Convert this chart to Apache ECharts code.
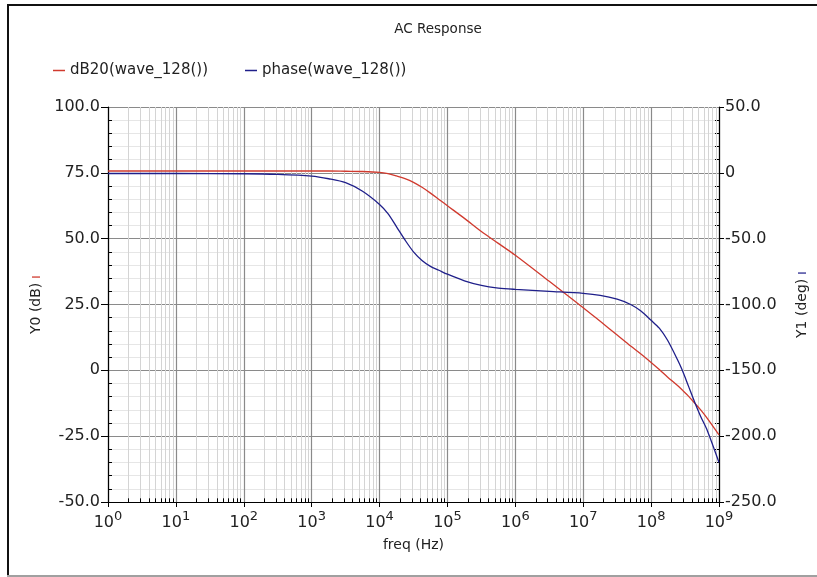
<!DOCTYPE html>
<html>
<head>
<meta charset="utf-8">
<style>
html,body{margin:0;padding:0;background:#fff;}
#chart{width:817px;height:577px;}
</style>
<script src="https://cdn.jsdelivr.net/npm/echarts@6/dist/echarts.min.js"></script>
</head>
<body>
<div id="chart"></div>
<script>
// ---- data ----
const freq = [1, 10, 100, 316, 1e3, 1.78e3, 3.16e3, 5.62e3, 1e4, 1.33e4, 1.78e4, 2.37e4, 3.16e4, 4.22e4, 5.62e4, 7.5e4,
  1e5, 1.78e5, 3.16e5, 5.62e5, 1e6, 3.16e6, 1e7, 1.78e7, 3.16e7, 5e7, 7.08e7, 1e8, 1.32e8, 1.74e8, 2.45e8, 2.88e8,
  3.55e8, 4.37e8, 5.37e8, 6.76e8, 1e9];
const dB20 = [75.7, 75.7, 75.7, 75.7, 75.7, 75.7, 75.6, 75.5, 75.2, 74.7, 73.8, 72.8, 71.4, 69.5, 67.3, 64.9,
  62.5, 57.7, 52.7, 48.2, 43.7, 33.8, 23.8, 18.6, 13.4, 9.2, 6.2, 3.0, 0.3, -2.5, -5.8, -7.5,
  -9.8, -12.4, -15.0, -18.3, -24.5];
const phase = [-0.5, -0.5, -0.7, -1.2, -2.5, -4.5, -7.5, -14, -24, -31, -41, -51, -60, -66.5, -71, -74,
  -77, -82, -85.5, -87.5, -88.5, -90, -91.5, -93, -96, -100, -105, -112, -118, -127, -142, -150,
  -162, -174, -185, -196, -220];
const seriesNames = ['dB20(wave_128())', 'phase(wave_128())'];
const decades = [1, 10, 100, 1e3, 1e4, 1e5, 1e6, 1e7, 1e8];
const minorMultipliers = [2, 3, 4, 5, 6, 7, 8, 9];

const RED = '#d03a2e';
const BLUE = '#1f1f8a';
const FONT = 'DejaVu Sans';

const minorX = [];
decades.forEach(d => minorMultipliers.forEach(m => minorX.push(d * m)));

function numFmt(v) { return v === 0 ? '0' : v.toFixed(1); }

const chart = echarts.init(document.getElementById('chart'), null, {renderer: 'canvas'});
chart.setOption({
  animation: false,
  backgroundColor: '#fff',
  textStyle: {fontFamily: FONT},
  title: {
    text: 'AC Response',
    left: 438, top: 22, textAlign: 'center', padding: 0,
    textStyle: {fontFamily: FONT, fontSize: 13.5, fontWeight: 'normal', color: '#222'}
  },
  legend: [
    {data: [seriesNames[0]], left: 53, top: 63, padding: 0, itemWidth: 12, itemHeight: 1.5, icon: 'rect',
     textStyle: {fontFamily: FONT, fontSize: 15, color: '#222'}, itemStyle: {color: RED}},
    {data: [seriesNames[1]], left: 245, top: 63, padding: 0, itemWidth: 12, itemHeight: 1.5, icon: 'rect',
     textStyle: {fontFamily: FONT, fontSize: 15, color: '#222'}, itemStyle: {color: BLUE}}
  ],
  grid: {left: 108, right: 95, top: 107, bottom: 75, containLabel: false},
  xAxis: {
    type: 'log', logBase: 10, min: 1, max: 1e9,
    name: 'freq (Hz)', nameLocation: 'middle', nameGap: 36,
    nameTextStyle: {fontFamily: FONT, fontSize: 14, color: '#222'},
    axisLine: {show: true, onZero: false, lineStyle: {color: '#000', width: 1.2}},
    axisTick: {show: true, length: 5, lineStyle: {color: '#000'}},
    splitLine: {show: true, lineStyle: {color: '#8a8a8a', width: 1.2}},
    axisLabel: {
      margin: 7,
      formatter: v => '{b|10}{s|' + Math.round(Math.log10(v)) + '}',
      rich: {
        b: {fontFamily: FONT, fontSize: 16, color: '#222', verticalAlign: 'bottom', lineHeight: 22},
        s: {fontFamily: FONT, fontSize: 13, color: '#222', verticalAlign: 'bottom', padding: [0, 0, 8, 0], lineHeight: 22}
      }
    }
  },
  yAxis: [
    {
      type: 'value', min: -50, max: 100, interval: 25, position: 'left',
      name: '{t|Y0 (dB)} {m|ı}', nameLocation: 'middle', nameGap: 64, nameRotate: 90,
      nameTextStyle: {rich: {
        t: {fontFamily: FONT, fontSize: 14, color: '#222'},
        m: {fontFamily: FONT, fontSize: 14, color: RED}
      }},
      axisLine: {show: true, onZero: false, lineStyle: {color: '#000', width: 1.2}},
      axisTick: {show: true, length: 7, lineStyle: {color: '#000'}},
      minorTick: {show: true, splitNumber: 5, length: -4, lineStyle: {color: '#000'}},
      splitLine: {show: true, lineStyle: {color: '#8a8a8a', width: 1.2}},
      minorSplitLine: {show: true, lineStyle: {color: '#e6e6e6', width: 1}},
      axisLabel: {margin: 8, formatter: numFmt, fontFamily: FONT, fontSize: 16, color: '#222'}
    },
    {
      type: 'value', min: -250, max: 50, interval: 50, position: 'right',
      name: '{t|Y1 (deg)} {m|ı}', nameLocation: 'middle', nameGap: 76, nameRotate: 90,
      nameTextStyle: {rich: {
        t: {fontFamily: FONT, fontSize: 14, color: '#222'},
        m: {fontFamily: FONT, fontSize: 14, color: BLUE}
      }},
      axisLine: {show: true, onZero: false, lineStyle: {color: '#000', width: 1.2}},
      axisTick: {show: true, length: 5, lineStyle: {color: '#000'}},
      minorTick: {show: true, splitNumber: 5, length: -4, lineStyle: {color: '#000'}},
      splitLine: {show: false},
      axisLabel: {margin: 6, formatter: numFmt, fontFamily: FONT, fontSize: 16, color: '#222'}
    }
  ],
  graphic: [
    {type: 'rect', shape: {x: 7, y: 4, width: 2, height: 573}, style: {fill: '#111'}, silent: true},
    {type: 'rect', shape: {x: 7, y: 4, width: 810, height: 2}, style: {fill: '#111'}, silent: true},
    {type: 'rect', shape: {x: 7, y: 575, width: 810, height: 2}, style: {fill: '#a0a0a0'}, silent: true}
  ],
  series: [
    {
      name: 'minorGrid', type: 'line', xAxisIndex: 0, yAxisIndex: 0, z: 1,
      data: [[1, -50]], showSymbol: false, symbol: 'none', lineStyle: {opacity: 0}, silent: true,
      markLine: {
        z: 1, silent: true, symbol: 'none', label: {show: false}, animation: false,
        lineStyle: {color: '#d4d4d4', width: 1, type: 'solid'},
        emphasis: {disabled: true},
        data: minorX.map(v => ({xAxis: v}))
      }
    },
    {
      name: 'minorTicks', type: 'line', xAxisIndex: 0, yAxisIndex: 0, z: 4,
      data: [[1, -50]], showSymbol: false, symbol: 'none', lineStyle: {opacity: 0}, silent: true,
      markLine: {
        z: 4, silent: true, symbol: 'none', label: {show: false}, animation: false,
        lineStyle: {color: '#000', width: 1, type: 'solid'},
        emphasis: {disabled: true},
        data: minorX.map(v => [{coord: [v, -50]}, {coord: [v, -48.6]}])
      }
    },
    {
      name: seriesNames[0], type: 'line', xAxisIndex: 0, yAxisIndex: 0, z: 3,
      data: freq.map((f, i) => [f, dB20[i]]),
      showSymbol: false, symbol: 'none', smooth: 0.3,
      itemStyle: {color: RED}, lineStyle: {color: RED, width: 1.3}
    },
    {
      name: seriesNames[1], type: 'line', xAxisIndex: 0, yAxisIndex: 1, z: 3,
      data: freq.map((f, i) => [f, phase[i]]),
      showSymbol: false, symbol: 'none', smooth: 0.3,
      itemStyle: {color: BLUE}, lineStyle: {color: BLUE, width: 1.3}
    }
  ]
});
</script>
</body>
</html>
